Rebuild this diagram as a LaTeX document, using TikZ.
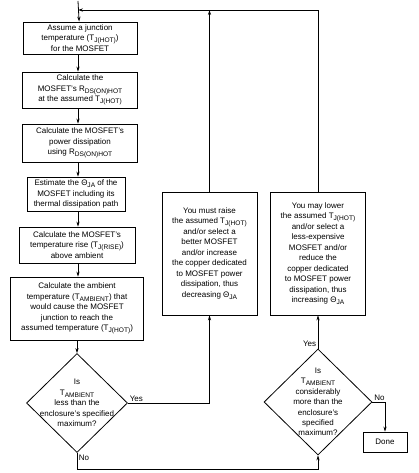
\documentclass[tikz,border=0pt]{standalone}
\usepackage{fontspec}
\setmainfont{Liberation Sans}
\usetikzlibrary{arrows.meta,shapes.geometric}

\newcommand\lo[1]{\raisebox{-.45ex}{\fontsize{6.6}{7}\selectfont #1}}

\tikzset{
    flow box/.style={
        draw,line width=.8pt,
        align=center,inner sep=1pt,
        font=\fontsize{8}{10.5}\selectfont
    },
    decision/.style={
        draw,diamond,line width=.8pt,inner sep=0pt
    },
    decision text/.style={
        align=center,font=\fontsize{8}{10.4}\selectfont
    },
    answer/.style={font=\fontsize{8}{10}\selectfont,inner sep=1.5pt}
}

\begin{document}
\begin{tikzpicture}[x=1pt,y=-1pt,line width=.8pt,>={Stealth[length=5pt,width=3.2pt]}]
        \useasboundingbox (0,0) rectangle (418,473);
        % left column
        \coordinate (start) at (78,1);
        \node[flow box,minimum width=114pt,minimum height=32pt] (assume) at (80,38)
            {Assume a junction\\temperature (T\lo{J(HOT)})\\for the MOSFET};
        \node[flow box,minimum width=115pt,minimum height=36pt] (rds) at (80,90)
            {Calculate the\\MOSFET's R\lo{DS(ON)HOT}\\at the assumed T\lo{J(HOT)}};
        \node[flow box,minimum width=115pt,minimum height=38pt] (power) at (80,143)
            {Calculate the MOSFET's\\power dissipation\\using R\lo{DS(ON)HOT}};
        \node[flow box,minimum width=98pt,minimum height=34pt] (theta) at (76,194)
            {Estimate the Θ\lo{JA} of the\\MOSFET including its\\thermal dissipation path};
        \node[flow box,minimum width=116pt,minimum height=36pt] (rise) at (77,245)
            {Calculate the MOSFET's\\temperature rise (T\lo{J(RISE)})\\above ambient};
        \node[flow box,minimum width=133pt,minimum height=63pt] (ambient) at (77,308.5)
            {Calculate the ambient\\temperature (T\lo{AMBIENT}) that\\would cause the MOSFET\\junction to reach the\\assumed temperature (T\lo{J(HOT)})};
        \node[decision,minimum width=101pt,minimum height=99pt,
              label={[decision text]center:{Is\\T\lo{AMBIENT}\\less than the\\enclosure's specified\\maximum?}}] (less) at (77,403) {};
        % right part
        \node[flow box,minimum width=95pt,minimum height=123pt] (raise) at (209.5,253.5)
            {You must raise\\the assumed T\lo{J(HOT)}\\and/or select a\\better MOSFET\\and/or increase\\the copper dedicated\\to MOSFET power\\dissipation, thus\\decreasing Θ\lo{JA}};
        \node[flow box,minimum width=95pt,minimum height=123pt] (lower) at (318,253.5)
            {You may lower\\the assumed T\lo{J(HOT)}\\and/or select a\\less-expensive\\MOSFET and/or\\reduce the\\copper dedicated\\to MOSFET power\\dissipation, thus\\increasing Θ\lo{JA}};
        \node[decision,minimum width=108pt,minimum height=106pt,
              label={[decision text]center:{Is\\T\lo{AMBIENT}\\considerably\\more than the\\enclosure's\\specified\\maximum?}}] (more) at (318,402) {};
        \node[flow box,minimum width=44pt,minimum height=20pt] (done) at (385,442) {Done};
        \coordinate (entry) at (78,10);

        % connectors
        \draw[->] (start) -- (assume);
        \foreach \a/\b in {assume/rds,rds/power,power/theta,theta/rise,rise/ambient}
            \draw[->] (\a.south -| 78,0) -- (\b.north -| 78,0);
        \draw[->] (ambient.south -| less.north) -- (less.north);
        \draw[->] (lower.north) |- (entry);
        \draw[->] (raise.north) -- (raise.north |- entry);
        \draw[->] (less.east) -| (raise.south);
        \draw[->] (less.south) -- ++(0,16) -| (more.south);
        \draw[->] (more.north) -- (lower.south);
        \draw[->] (more.east) -| (done.north);

        % answers
        \node[answer,anchor=south west] (yes1) at (less.east) {Yes};
        \node[answer,anchor=north west] (no1) at (less.south) {No};
        \node[answer,anchor=south east] (yes2) at (more.north) {Yes};
        \node[answer,anchor=south west] (no2) at (more.east) {No};
\end{tikzpicture}
\end{document}
